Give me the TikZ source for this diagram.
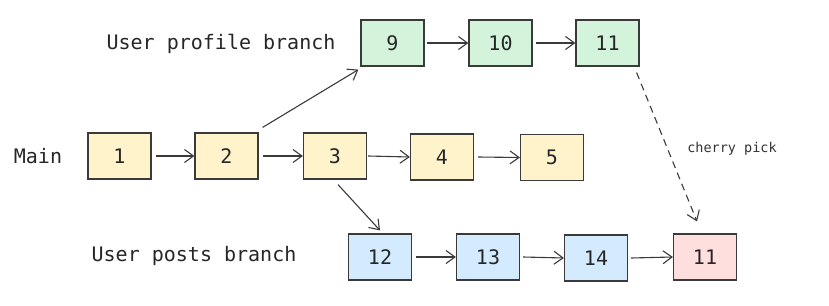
\documentclass[tikz,border=0pt]{standalone}
\usepackage{fontspec}
\setmonofont{DejaVu Sans Mono}
\usepackage{xcolor}
\usetikzlibrary{arrows.meta, positioning}
\definecolor{mainfill}{HTML}{FFF3CC}
\definecolor{profilefill}{HTML}{D3F4DA}
\definecolor{postsfill}{HTML}{D4EBFF}
\definecolor{pickfill}{HTML}{FFDEDE}
\definecolor{inkgray}{HTML}{3A3A3A}
\tikzstyle{commit} = [draw=inkgray, line width=1.2pt, minimum width=63pt, minimum height=46pt,
inner sep=0pt, font=\ttfamily\fontsize{20}{24}\selectfont, text=black!85]
\tikzstyle{arrow} = [draw=inkgray, line width=1.1pt, -{Straight Barb[length=9pt, width=13pt]}]

\begin{document}
\begin{tikzpicture}[
        x=1pt, y=-1pt,
        branchlabel/.style={font=\ttfamily\fontsize{20}{24}\selectfont, text=black!85},
        picklabel/.style={font=\ttfamily\fontsize{13.5}{16}\selectfont, text=black!80},
    ]
        \useasboundingbox (0,0) rectangle (829,305);

        % main line
        \node[branchlabel] (mainlbl) at (38,156) {Main};
        \node[commit, fill=mainfill] (c1) at (119.5,156) {1};
        \node[commit, fill=mainfill] (c2) at (226.5,156) {2};
        \node[commit, fill=mainfill] (c3) at (335,156) {3};
        \node[commit, fill=mainfill] (c4) at (442,157) {4};
        \node[commit, fill=mainfill] (c5) at (552,157.5) {5};

        % user profile branch
        \node[branchlabel] (profilelbl) at (221,44) {User profile branch};
        \node[commit, fill=profilefill] (c9) at (392.5,43) {9};
        \node[commit, fill=profilefill] (c10) at (500.5,43) {10};
        \node[commit, fill=profilefill] (c11) at (607.5,43) {11};

        % user posts branch
        \node[branchlabel] (postslbl) at (194,256) {User posts branch};
        \node[commit, fill=postsfill] (c12) at (380,257) {12};
        \node[commit, fill=postsfill] (c13) at (488,257) {13};
        \node[commit, fill=postsfill] (c14) at (596,258) {14};
        \node[commit, fill=pickfill] (c11b) at (705,257) {11};

        \node[picklabel] (picklbl) at (732,149) {cherry pick};

        \draw[arrow] ([xshift=4pt]c1.east) -- (c2.west);
        \draw[arrow] ([xshift=4pt]c2.east) -- (c3.west);
        \draw[arrow] ([xshift=1pt]c3.east) -- (c4.west);
        \draw[arrow] ([xshift=4pt]c4.east) -- (c5.west);
        \draw[arrow] ([xshift=2pt]c9.east) -- (c10.west);
        \draw[arrow] ([xshift=3pt]c10.east) -- (c11.west);
        \draw[arrow] ([xshift=4pt, yshift=5pt]c2.north east) -- ([xshift=-2pt, yshift=-3pt]c9.south west);
        \draw[arrow] ([xshift=3pt, yshift=-5pt]c3.south) -- ([yshift=3pt]c12.north);
        \draw[arrow] ([xshift=4pt]c12.east) -- (c13.west);
        \draw[arrow] ([xshift=3pt]c13.east) -- (c14.west);
        \draw[arrow] ([xshift=3pt]c14.east) -- (c11b.west);
        \draw[arrow, dash pattern=on 7pt off 5pt] ([xshift=-3pt, yshift=-6pt]c11.south east) -- ([xshift=-8pt, yshift=12pt]c11b.north);
    \end{tikzpicture}
\end{document}
